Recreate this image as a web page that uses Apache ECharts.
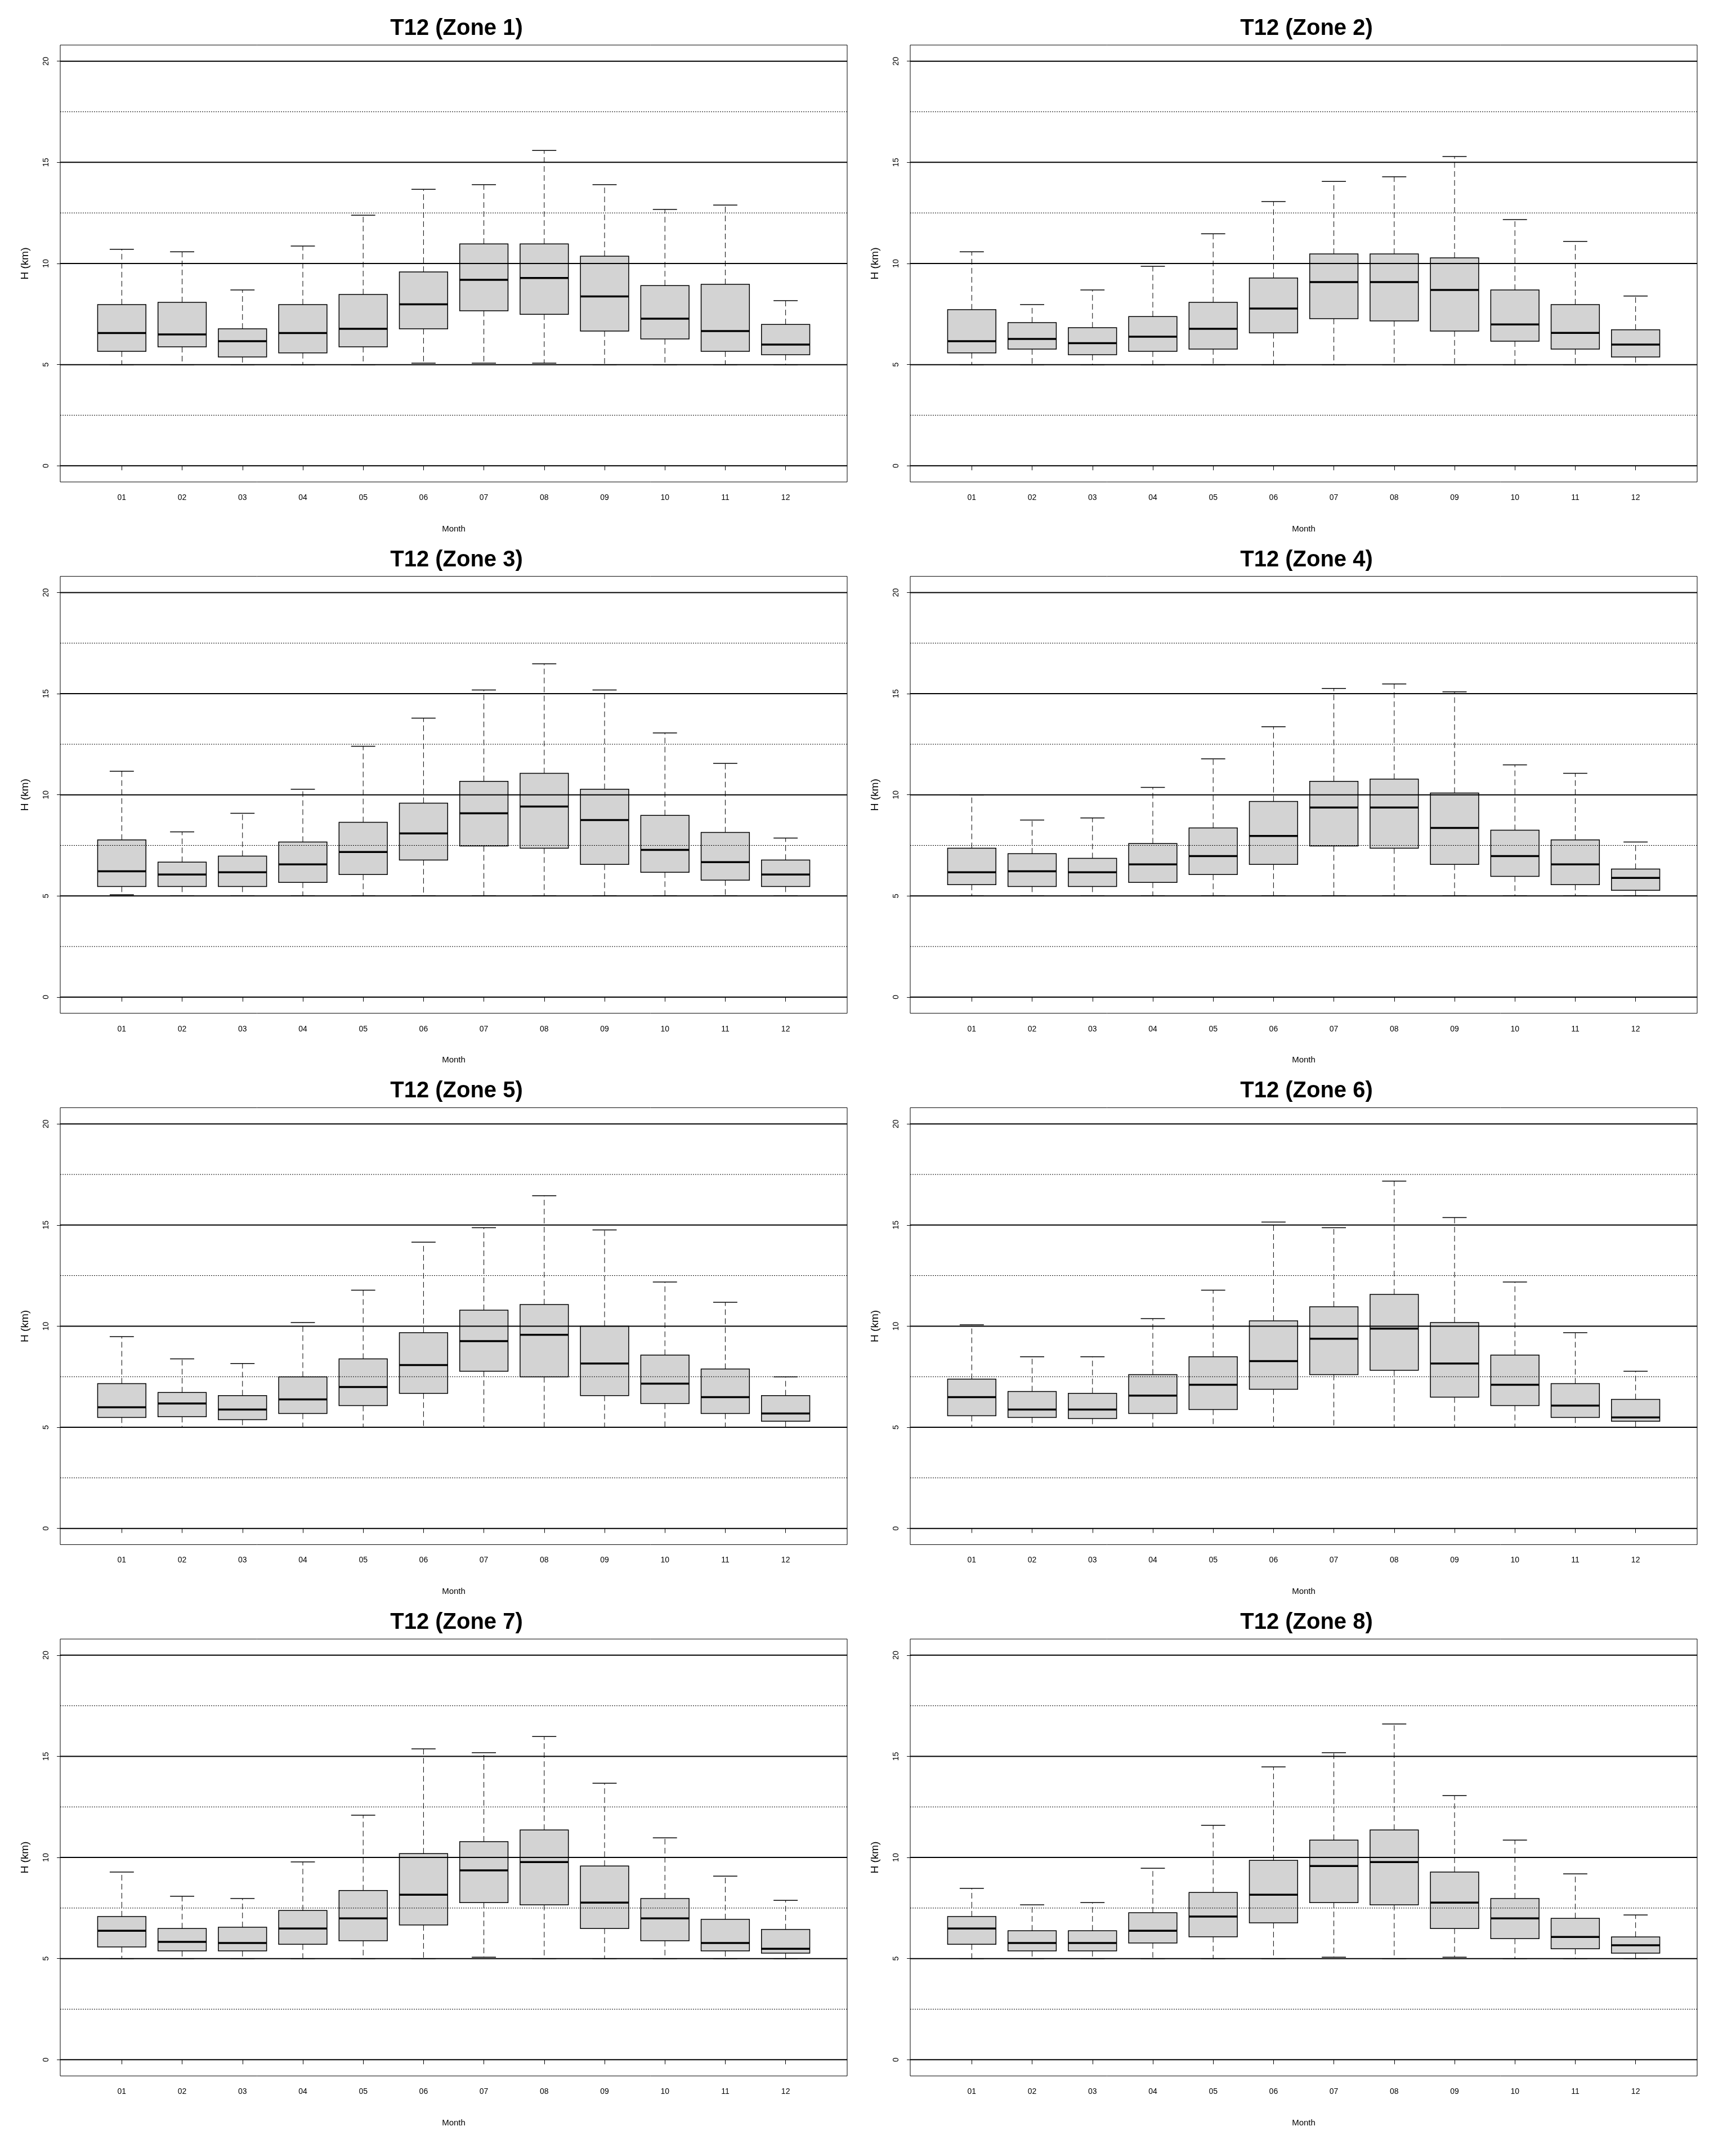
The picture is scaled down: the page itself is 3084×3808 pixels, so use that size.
<!DOCTYPE html>
<html>
<head>
<meta charset="utf-8">
<script src="https://cdn.jsdelivr.net/npm/echarts@6/dist/echarts.min.js"></script>
<style>
  html, body { margin: 0; padding: 0; background: #fff; }
  #main { width: 3084px; height: 3808px; }
</style>
</head>
<body>
<div id="main"></div>
<script>
// month labels and axis ticks
const MONTHS = ["01", "02", "03", "04", "05", "06", "07", "08", "09", "10", "11", "12"];
const Y_TICKS = [0, 5, 10, 15, 20];
const SOLID_LINES = [0, 5, 10, 15, 20];
const DOTTED_LINES_A = [2.5, 12.5, 17.5];
const DOTTED_LINES_B = [2.5, 7.5, 12.5, 17.5];

// each row: [lower whisker, Q1, median, Q3, upper whisker]
const ZONE1 = [
  [5.0, 5.66, 6.56, 7.97, 10.70],
  [5.0, 5.88, 6.49, 8.08, 10.58],
  [5.0, 5.38, 6.16, 6.77, 8.69],
  [5.0, 5.58, 6.56, 7.97, 10.86],
  [5.0, 5.88, 6.77, 8.47, 12.39],
  [5.07, 6.77, 7.98, 9.58, 13.67],
  [5.07, 7.66, 9.19, 10.97, 13.90],
  [5.07, 7.49, 9.28, 10.97, 15.59],
  [5.0, 6.66, 8.37, 10.36, 13.90],
  [5.0, 6.27, 7.27, 8.91, 12.67],
  [5.0, 5.66, 6.66, 8.97, 12.89],
  [5.0, 5.49, 5.99, 6.99, 8.16]
];
const ZONE2 = [
  [5.0, 5.58, 6.16, 7.72, 10.58],
  [5.0, 5.77, 6.27, 7.08, 7.97],
  [5.0, 5.49, 6.06, 6.83, 8.69],
  [5.0, 5.66, 6.38, 7.38, 9.86],
  [5.0, 5.77, 6.77, 8.08, 11.47],
  [5.0, 6.57, 7.77, 9.28, 13.06],
  [5.0, 7.27, 9.08, 10.47, 14.06],
  [5.0, 7.16, 9.08, 10.47, 14.29],
  [5.0, 6.66, 8.69, 10.28, 15.29],
  [5.0, 6.16, 6.99, 8.69, 12.17],
  [5.0, 5.77, 6.57, 7.97, 11.09],
  [5.0, 5.38, 5.99, 6.72, 8.39]
];
const ZONE3 = [
  [5.06, 5.47, 6.22, 7.77, 11.17],
  [5.0, 5.47, 6.06, 6.67, 8.17],
  [5.0, 5.47, 6.17, 6.97, 9.09],
  [5.0, 5.67, 6.56, 7.67, 10.28],
  [5.0, 6.06, 7.17, 8.64, 12.40],
  [5.0, 6.78, 8.09, 9.59, 13.79],
  [5.0, 7.47, 9.09, 10.67, 15.18],
  [5.0, 7.36, 9.42, 11.06, 16.48],
  [5.0, 6.56, 8.75, 10.28, 15.18],
  [5.0, 6.17, 7.28, 8.98, 13.06],
  [5.0, 5.78, 6.67, 8.14, 11.56],
  [5.0, 5.47, 6.06, 6.78, 7.86]
];
const ZONE4 = [
  [5.0, 5.56, 6.17, 7.36, 10.0],
  [5.0, 5.47, 6.22, 7.09, 8.75],
  [5.0, 5.47, 6.17, 6.86, 8.86],
  [5.0, 5.67, 6.56, 7.59, 10.37],
  [5.0, 6.06, 6.97, 8.36, 11.78],
  [5.0, 6.56, 7.97, 9.67, 13.37],
  [5.0, 7.47, 9.37, 10.67, 15.26],
  [5.0, 7.36, 9.37, 10.78, 15.48],
  [5.0, 6.56, 8.36, 10.09, 15.09],
  [5.0, 5.97, 6.97, 8.25, 11.48],
  [5.0, 5.56, 6.56, 7.77, 11.06],
  [5.0, 5.28, 5.89, 6.33, 7.67]
];
const ZONE5 = [
  [5.0, 5.49, 5.99, 7.16, 9.48],
  [5.0, 5.52, 6.18, 6.72, 8.38],
  [5.0, 5.38, 5.88, 6.57, 8.15],
  [5.0, 5.68, 6.38, 7.49, 10.18],
  [5.0, 6.07, 6.99, 8.38, 11.78],
  [5.0, 6.68, 8.08, 9.68, 14.15],
  [5.0, 7.77, 9.26, 10.79, 14.87],
  [5.0, 7.49, 9.57, 11.07, 16.45],
  [5.0, 6.57, 8.15, 10.0, 14.76],
  [5.0, 6.18, 7.16, 8.57, 12.18],
  [5.0, 5.68, 6.49, 7.88, 11.18],
  [5.0, 5.30, 5.68, 6.57, 7.49]
];
const ZONE6 = [
  [5.0, 5.57, 6.49, 7.38, 10.07],
  [5.0, 5.49, 5.88, 6.77, 8.49],
  [5.0, 5.43, 5.88, 6.68, 8.49],
  [5.0, 5.68, 6.57, 7.60, 10.37],
  [5.0, 5.88, 7.10, 8.49, 11.78],
  [5.0, 6.88, 8.27, 10.26, 15.15],
  [5.0, 7.60, 9.38, 10.96, 14.87],
  [5.0, 7.82, 9.88, 11.57, 17.17],
  [5.0, 6.49, 8.15, 10.18, 15.37],
  [5.0, 6.07, 7.10, 8.57, 12.18],
  [5.0, 5.49, 6.07, 7.16, 9.68],
  [5.0, 5.30, 5.49, 6.38, 7.77]
];
const ZONE7 = [
  [5.0, 5.58, 6.38, 7.08, 9.28],
  [5.0, 5.38, 5.83, 6.49, 8.08],
  [5.0, 5.38, 5.77, 6.55, 7.97],
  [5.0, 5.71, 6.49, 7.38, 9.78],
  [5.0, 5.88, 6.99, 8.37, 12.09],
  [5.0, 6.66, 8.16, 10.19, 15.37],
  [5.07, 7.77, 9.36, 10.78, 15.18],
  [5.0, 7.66, 9.77, 11.36, 15.98],
  [5.0, 6.49, 7.77, 9.58, 13.67],
  [5.0, 5.88, 6.99, 7.97, 10.97],
  [5.0, 5.38, 5.77, 6.94, 9.08],
  [5.0, 5.27, 5.49, 6.44, 7.88]
];
const ZONE8 = [
  [5.0, 5.71, 6.49, 7.08, 8.47],
  [5.0, 5.38, 5.77, 6.38, 7.66],
  [5.0, 5.38, 5.77, 6.38, 7.77],
  [5.0, 5.77, 6.38, 7.27, 9.47],
  [5.0, 6.08, 7.08, 8.27, 11.59],
  [5.0, 6.77, 8.16, 9.86, 14.48],
  [5.07, 7.77, 9.58, 10.86, 15.18],
  [5.0, 7.66, 9.77, 11.36, 16.60],
  [5.07, 6.49, 7.77, 9.28, 13.06],
  [5.0, 5.99, 6.99, 7.97, 10.86],
  [5.0, 5.49, 6.07, 6.99, 9.19],
  [5.0, 5.27, 5.66, 6.07, 7.16]
];

const ZONES = [ZONE1, ZONE2, ZONE3, ZONE4, ZONE5, ZONE6, ZONE7, ZONE8];
const FONT = "'Liberation Sans', Arial, sans-serif";

const X_MIN = -0.02;
const X_MAX = 13.02;
const COL_LEFT = [107, 1617];
const PLOT_W = 1398;
const PLOT_H = 776;
const ROW_STEP = 943.7;
const FIRST_TOP = 80;

function renderBox(params, api) {
  const x = api.value(0);
  const pLo = api.coord([x, api.value(1)]);
  const pQ1 = api.coord([x, api.value(2)]);
  const pMed = api.coord([x, api.value(3)]);
  const pQ3 = api.coord([x, api.value(4)]);
  const pHi = api.coord([x, api.value(5)]);
  const boxW = api.size([0.8, 0])[0];
  const capW = api.size([0.4, 0])[0];
  const cx = pMed[0];
  const dashed = { stroke: "#000", lineWidth: 1, lineDash: [10, 6] };
  const solid = { stroke: "#000", lineWidth: 1.5 };
  return {
    type: "group",
    children: [
      { type: "line", shape: { x1: cx, y1: pQ3[1], x2: cx, y2: pHi[1] }, style: dashed },
      { type: "line", shape: { x1: cx, y1: pQ1[1], x2: cx, y2: pLo[1] }, style: dashed },
      { type: "line", shape: { x1: cx - capW / 2, y1: pHi[1], x2: cx + capW / 2, y2: pHi[1] }, style: solid },
      { type: "line", shape: { x1: cx - capW / 2, y1: pLo[1], x2: cx + capW / 2, y2: pLo[1] }, style: solid },
      {
        type: "rect",
        shape: { x: cx - boxW / 2, y: pQ3[1], width: boxW, height: pQ1[1] - pQ3[1] },
        style: { fill: "#d3d3d3", stroke: "#000", lineWidth: 1.5 }
      },
      { type: "line", shape: { x1: cx - boxW / 2, y1: pMed[1], x2: cx + boxW / 2, y2: pMed[1] }, style: { stroke: "#000", lineWidth: 3.5 } }
    ]
  };
}

function renderRefLine(params, api) {
  const v = api.value(1);
  const p1 = api.coord([X_MIN, v]);
  const p2 = api.coord([X_MAX, v]);
  const kind = api.value(2);
  const style = kind === 1
    ? { stroke: "#000", lineWidth: 2 }
    : { stroke: "#000", lineWidth: 1, lineDash: [2, 2] };
  return { type: "line", shape: { x1: p1[0], y1: p1[1], x2: p2[0], y2: p2[1] }, style: style };
}

const grids = [];
const xAxes = [];
const yAxes = [];
const titles = [];
const series = [];

ZONES.forEach((zone, i) => {
  const col = i % 2;
  const row = Math.floor(i / 2);
  const top = FIRST_TOP + ROW_STEP * row;
  const left = COL_LEFT[col];

  grids.push({
    left: left, top: top, width: PLOT_W, height: PLOT_H,
    show: true, borderColor: "#000", borderWidth: 1, backgroundColor: "transparent"
  });

  titles.push({
    text: `T12 (Zone ${i + 1})`,
    left: left + PLOT_W / 2,
    top: top - 54,
    textAlign: "center",
    textStyle: { fontFamily: FONT, fontSize: 40, fontWeight: "bold", color: "#000", lineHeight: 40 }
  });

  xAxes.push({
    gridIndex: i,
    type: "value",
    min: X_MIN,
    max: X_MAX,
    name: "Month",
    nameLocation: "middle",
    nameGap: 76,
    nameTextStyle: { fontFamily: FONT, fontSize: 15, color: "#000" },
    axisLine: { show: false },
    splitLine: { show: false },
    axisTick: {
      show: true,
      customValues: MONTHS.map((m, k) => k + 1),
      length: 8,
      lineStyle: { color: "#000", width: 1 }
    },
    axisLabel: {
      customValues: MONTHS.map((m, k) => k + 1),
      formatter: (v) => MONTHS[Math.round(v) - 1],
      margin: 21,
      fontFamily: FONT,
      fontSize: 14,
      color: "#000"
    }
  });

  yAxes.push({
    gridIndex: i,
    type: "value",
    min: -0.8,
    max: 20.8,
    name: "H (km)",
    nameLocation: "middle",
    nameRotate: 90,
    nameGap: 53,
    nameTextStyle: { fontFamily: FONT, fontSize: 19, color: "#000" },
    axisLine: { show: false },
    splitLine: { show: false },
    axisTick: {
      show: true,
      customValues: Y_TICKS,
      length: 8,
      lineStyle: { color: "#000", width: 1 }
    },
    axisLabel: {
      customValues: Y_TICKS,
      rotate: 90,
      margin: 18,
      fontFamily: FONT,
      fontSize: 14,
      color: "#000"
    }
  });

  series.push({
    type: "custom",
    xAxisIndex: i,
    yAxisIndex: i,
    z: 2,
    silent: true,
    renderItem: renderBox,
    encode: { x: 0, y: [1, 2, 3, 4, 5] },
    data: zone.map((r, k) => [k + 1].concat(r))
  });

  const dotted = i < 2 ? DOTTED_LINES_A : DOTTED_LINES_B;
  const refData = SOLID_LINES.map((v) => [X_MIN, v, 1]).concat(dotted.map((v) => [X_MIN, v, 0]));
  series.push({
    type: "custom",
    xAxisIndex: i,
    yAxisIndex: i,
    z: 3,
    silent: true,
    renderItem: renderRefLine,
    encode: { x: 0, y: 1 },
    data: refData
  });
});

const chart = echarts.init(document.getElementById("main"), null, { renderer: "canvas" });
chart.setOption({
  animation: false,
  backgroundColor: "#fff",
  title: titles,
  grid: grids,
  xAxis: xAxes,
  yAxis: yAxes,
  series: series
});
</script>
</body>
</html>
